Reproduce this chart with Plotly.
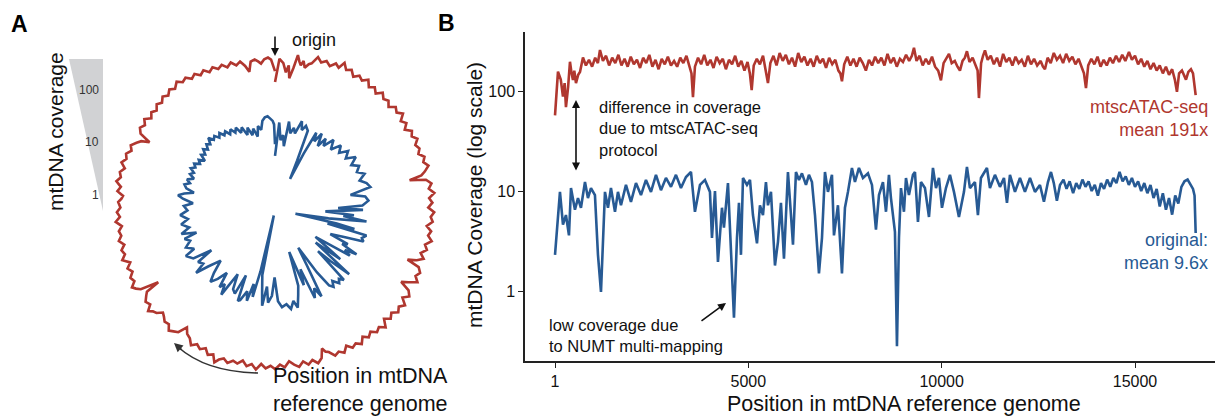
import plotly.graph_objects as go

W, H = 1223, 418          # reference picture size
OFF = 8                   # page body margin in the browser
FW, FH = W - OFF, H - OFF # figure size so that it fills the window exactly
GENOME_LEN = 16569

# ---- data ----
red_pos = [1, 78, 150, 207, 250, 284, 340, 388, 430, 465, 500, 543, 600, 647, 724, 800, 880, 960,
           1040, 1110, 1164, 1240, 1320, 1400, 1480, 1560, 1640, 1720, 1800, 1880, 1960, 2040, 2120,
           2200, 2280, 2360, 2440, 2520, 2600, 2680, 2760, 2840, 2920, 3000, 3080, 3160, 3240, 3320,
           3400, 3480, 3530, 3569, 3620, 3700, 3780, 3860, 3940, 4020, 4100, 4180, 4260, 4340, 4420,
           4500, 4580, 4660, 4740, 4820, 4900, 4980, 5040, 5087, 5140, 5220, 5300, 5380, 5450, 5508,
           5570, 5650, 5730, 5810, 5890, 5970, 6050, 6130, 6210, 6290, 6370, 6450, 6530, 6610, 6690,
           6770, 6850, 6930, 7010, 7090, 7170, 7250, 7330, 7380, 7422, 7480, 7560, 7640, 7720, 7800,
           7880, 7960, 8040, 8120, 8200, 8280, 8360, 8440, 8520, 8600, 8680, 8760, 8840, 8920, 9000,
           9080, 9160, 9230, 9284, 9350, 9430, 9510, 9590, 9670, 9750, 9830, 9910, 9982, 10050,
           10120, 10189, 10260, 10340, 10410, 10473, 10540, 10600, 10654, 10720, 10800, 10880, 10930,
           10964, 11020, 11070, 11120, 11190, 11270, 11350, 11430, 11510, 11590, 11670, 11750, 11830,
           11910, 11990, 12070, 12150, 12230, 12310, 12390, 12470, 12560, 12620, 12671, 12740, 12820,
           12900, 12980, 13060, 13140, 13220, 13300, 13380, 13460, 13540, 13620, 13680, 13732, 13790,
           13870, 13950, 14030, 14110, 14190, 14270, 14350, 14430, 14510, 14590, 14670, 14750, 14844,
           14920, 15000, 15080, 15160, 15240, 15320, 15400, 15480, 15560, 15640, 15720, 15800, 15880,
           15960, 16030, 16085, 16140, 16214, 16270, 16318, 16380, 16447, 16500, 16569]
red_cov = [57, 156, 130, 88, 120, 69, 110, 196, 150, 129, 160, 120, 145, 155, 216, 180, 205, 175,
           215, 190, 257, 200, 225, 180, 215, 190, 230, 180, 210, 175, 220, 185, 205,
           170, 215, 190, 230, 175, 205, 165, 210, 185, 220, 180, 200, 175, 215, 190,
           225, 180, 150, 87, 175, 215, 185, 230, 180, 205, 170, 220, 190, 210, 165,
           205, 185, 225, 175, 200, 160, 195, 150, 102, 180, 210, 185, 225, 160, 120,
           190, 225, 180, 240, 200, 230, 185, 215, 175, 240, 195, 220, 180, 210, 175,
           225, 190, 210, 170, 215, 185, 205, 160, 150, 125, 185, 220, 180, 210, 175,
           215, 190, 160, 205, 180, 220, 190, 215, 180, 235, 190, 215, 175, 210, 195,
           230, 200, 225, 270, 200, 225, 180, 210, 185, 220, 175, 160, 128, 190,
           210, 235, 190, 200, 175, 160, 200, 215, 250, 195, 215, 180, 160,
           85, 190, 225, 255, 205, 225, 185, 215, 175, 235, 195, 215, 180,
           220, 190, 205, 175, 225, 185, 210, 180, 200, 175, 165, 215, 190,
           240, 205, 225, 190, 235, 200, 220, 185, 210, 175, 150, 107, 180,
           210, 185, 220, 175, 205, 180, 215, 190, 225, 195, 230, 200, 245,
           205, 225, 185, 210, 175, 200, 165, 190, 160, 180, 150, 175, 145,
           165, 130, 98, 150, 160, 145, 130, 155, 165, 150, 91]

blue_pos = [1, 129, 207, 284, 362, 414, 517, 595, 672, 776, 853, 931, 1034, 1112, 1190, 1241, 1293,
            1371, 1448, 1552, 1629, 1707, 1836, 1965, 2095, 2224, 2353, 2483, 2612, 2741, 2870, 3000,
            3129, 3258, 3388, 3517, 3620, 3750, 3879, 4008, 4060, 4138, 4215, 4319, 4370, 4474, 4551,
            4629, 4707, 4758, 4810, 4862, 4965, 5043, 5120, 5224, 5301, 5379, 5456, 5508, 5586, 5689,
            5767, 5844, 5922, 6025, 6103, 6155, 6232, 6310, 6387, 6491, 6568, 6646, 6724, 6827, 6905,
            6982, 7060, 7163, 7215, 7318, 7422, 7499, 7577, 7680, 7758, 7861, 7965, 8094, 8198, 8301,
            8379, 8482, 8560, 8637, 8689, 8792, 8844, 8896, 8948, 9025, 9077, 9154, 9258, 9310, 9387,
            9465, 9568, 9672, 9775, 9853, 9930, 10008, 10111, 10215, 10318, 10447, 10577, 10654,
            10732, 10861, 10938, 11016, 11171, 11249, 11378, 11508, 11611, 11689, 11766, 11896,
            12025, 12154, 12284, 12413, 12542, 12645, 12749, 12827, 12900, 12980, 13060, 13150,
            13230, 13310, 13400, 13480, 13560, 13640, 13720, 13800, 13880, 13960, 14040, 14120,
            14200, 14280, 14360, 14440, 14520, 14600, 14680, 14760, 14840, 14920, 15000, 15080,
            15160, 15240, 15320, 15400, 15480, 15560, 15640, 15720, 15800, 15880, 15960, 16040,
            16120, 16200, 16280, 16360, 16440, 16500, 16540, 16569]
blue_cov = [2.3, 9.8, 4.6, 5.75, 3.6, 10.7, 6.5, 8.5, 6.8, 12.3, 8.5, 10.7, 9.1, 2.3, 0.98, 3.4, 9.8,
            6.8, 10.7, 6.2, 9.8, 7.2, 11.5, 7.8, 12, 9.1, 12.9, 9.8, 14.5, 10.2, 13.5, 11,
            14.5, 10.7, 13.8, 15.5, 6.2, 11.5, 12.9, 9.8, 3.4, 10, 1.95, 6.8, 4.3, 12, 2.3,
            0.54, 3.4, 7.6, 2.3, 13.5, 11.5, 12.9, 5.75, 3.0, 7.2, 5.75, 12.3, 7.2, 9.8, 1.8,
            3.1, 7.6, 2.1, 15.5, 5.75, 2.9, 15.5, 12.9, 15, 11.5, 14.5, 12.3, 5.75, 1.5, 3.4,
            15.5, 9.8, 14.5, 3.6, 7.2, 1.5, 6.8, 9.8, 17, 12.3, 17, 13.5, 15, 11.5, 4.1,
            9.1, 12.3, 6.2, 14.5, 8.5, 3.9, 0.28, 3.4, 10.7, 6.2, 13.5, 9.1, 14.5, 15.5, 4.9,
            12.3, 10.7, 5.5, 17, 10.7, 13.5, 6.8, 10.7, 14.5, 9.8, 5.5, 9.8, 17.4,
            10.7, 12.3, 5.75, 13.5, 17, 10.7, 14.5, 11, 13.5, 7.6, 14.5, 9.8,
            13.5, 9.8, 13.5, 9.8, 11.5, 7.8, 12.3, 15.5, 12, 8, 11.5, 13,
            10.5, 12.5, 9.5, 12, 10.5, 13, 11, 12.5, 10, 11.5, 9, 12,
            10.5, 13, 11, 13.5, 12, 15.5, 12.5, 14, 11.5, 13.5, 11, 12.5,
            10, 12, 9.5, 11.5, 8.5, 10.5, 7, 9.5, 6.5, 8.5, 5.8, 9,
            7.5, 11, 12.5, 13, 11.5, 10.5, 9, 3.8]

x_ticks = [1, 5000, 10000, 15000]
y_ticks = [1, 10, 100]
wedge_ticks = [100, 10, 1]

RED = "#B0372F"
BLUE = "#275A94"
FONT = "Liberation Sans, Arial, Helvetica, sans-serif"


def px(x, y):
    """reference-picture pixel -> paper fraction of the figure"""
    return (x - OFF) / FW, 1 - (y - OFF) / FH


fig = go.Figure()

theta_red = [p / GENOME_LEN * 360 for p in red_pos]
theta_blue = [p / GENOME_LEN * 360 for p in blue_pos]

fig.add_trace(go.Scatterpolar(r=red_cov, theta=theta_red, mode="lines",
                              line=dict(color=RED, width=2.6), showlegend=False))
fig.add_trace(go.Scatterpolar(r=blue_cov, theta=theta_blue, mode="lines",
                              line=dict(color=BLUE, width=2.6), showlegend=False))
fig.add_trace(go.Scatter(x=red_pos, y=red_cov, mode="lines",
                         line=dict(color=RED, width=2.6), showlegend=False))
fig.add_trace(go.Scatter(x=blue_pos, y=blue_cov, mode="lines",
                         line=dict(color=BLUE, width=2.6), showlegend=False))

annotations = []


def text(x, y, s, size, color="#111", xanchor="center", yanchor="middle", align="center",
         angle=0, bold=False):
    ax, ay = px(x, y)
    if bold:
        s = "<b>" + s + "</b>"
    annotations.append(dict(x=ax, y=ay, xref="paper", yref="paper", text=s, showarrow=False,
                            xanchor=xanchor, yanchor=yanchor, align=align, textangle=angle,
                            font=dict(family=FONT, size=size, color=color)))


def arrow(hx, hy, tx, ty, both=False, width=1.6, size=1.0, color="#111"):
    ax, ay = px(hx, hy)
    annotations.append(dict(x=ax, y=ay, xref="paper", yref="paper", text="", showarrow=True,
                            ax=tx - hx, ay=ty - hy, axref="pixel", ayref="pixel",
                            arrowhead=2, arrowsize=size, arrowwidth=width, arrowcolor=color,
                            arrowside="end+start" if both else "end", startarrowhead=2,
                            startarrowsize=size, standoff=0, startstandoff=0))


# panel letters
text(19, 24, "A", 23, "#000", bold=True)
text(446, 23, "B", 23, "#000", bold=True)

# panel A texts
text(290, 40, "origin", 18, xanchor="left")
arrow(275, 56, 275, 35)
text(55, 132, "mtDNA coverage", 21, angle=-90)
for v, yy in zip(wedge_ticks, [90, 142, 195]):
    text(101, yy, str(v), 12, "#333", xanchor="right")
text(271, 418, "Position in mtDNA<br>reference genome", 21.5, xanchor="left", yanchor="bottom",
     align="left")
arrow(174, 343, 183, 351, width=1.6, size=1.1, color="#333")

# panel B texts
text(904, 403.5, "Position in mtDNA reference genome", 21.5)
text(475, 195, "mtDNA Coverage (log scale)", 21, angle=-90)
arrow(576, 100, 576, 172, both=True)
text(597, 128, "difference in coverage<br>due to mtscATAC-seq<br>protocol", 16.5,
     xanchor="left", align="left")
text(1210, 118, "mtscATAC-seq<br>mean 191x", 18, RED, xanchor="right", align="right")
text(1210, 251, "original:<br>mean 9.6x", 18, BLUE, xanchor="right", align="right")
text(547, 335, "low coverage due<br>to NUMT multi-mapping", 16.5, xanchor="left", align="left")
arrow(726, 303, 700, 322)


def path(points, close=True, curve=None):
    pts = [px(x, y) for x, y in points]
    if curve:
        (sx, sy), (cx, cy), (ex, ey) = pts
        return f"M {sx},{sy} Q {cx},{cy} {ex},{ey}"
    s = "M " + " L ".join(f"{x},{y}" for x, y in pts)
    return s + (" Z" if close else "")


shapes = [
    dict(type="path", xref="paper", yref="paper",
         path=path([(69, 59), (103, 59), (103, 211)]),
         fillcolor="#D1D2D4", line=dict(width=0)),
    dict(type="path", xref="paper", yref="paper",
         path=path([(258, 373), (206, 372), (178, 347)], curve=True),
         line=dict(color="#333", width=1.6)),
]

pl_x0, pl_y0 = px(100, 385)
pl_x1, pl_y1 = px(450, 35)
cx0, cy0 = px(525, 361)
cx1, cy1 = px(1220, 32)

fig.update_layout(
    width=FW, height=FH,
    margin=dict(l=0, r=0, t=0, b=0),
    paper_bgcolor="white", plot_bgcolor="white",
    font=dict(family=FONT, size=16, color="#111"),
    showlegend=False,
    polar=dict(
        domain=dict(x=[pl_x0, pl_x1], y=[pl_y0, pl_y1]),
        bgcolor="white",
        radialaxis=dict(type="log", range=[-0.66, 2.64], visible=False),
        angularaxis=dict(rotation=90, direction="clockwise", visible=False),
    ),
    xaxis=dict(domain=[cx0, cx1], range=[-775, 17198],
               tickvals=x_ticks, ticktext=[str(t) for t in x_ticks],
               showline=True, linecolor="#222", linewidth=1.5, ticks="outside",
               ticklen=5, tickwidth=1.2, tickcolor="#222", showgrid=False, zeroline=False,
               tickfont=dict(size=16, family=FONT, color="#111")),
    yaxis=dict(type="log", domain=[cy0, cy1], range=[-0.70, 2.59],
               tickvals=y_ticks, ticktext=[str(t) for t in y_ticks],
               showline=True, linecolor="#222", linewidth=1.5, ticks="outside",
               ticklen=5, tickwidth=1.2, tickcolor="#222", showgrid=False, zeroline=False,
               tickfont=dict(size=16, family=FONT, color="#111")),
    annotations=annotations,
    shapes=shapes,
)

fig.write_html("out.html")
